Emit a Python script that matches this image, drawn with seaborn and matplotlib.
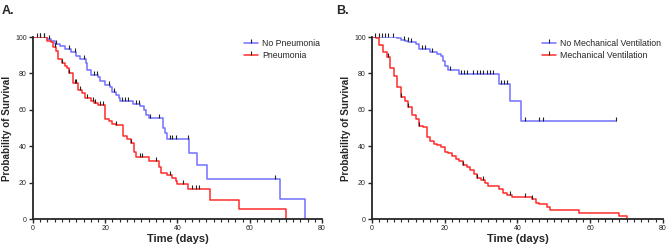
import numpy as np
import pandas as pd
import matplotlib
matplotlib.use("Agg")
import matplotlib.pyplot as plt
from matplotlib.path import Path
from matplotlib.lines import Line2D
from matplotlib.ticker import MultipleLocator
import seaborn as sns

# ---- Panel A: pneumonia ----
a_no_t = [0, 4, 5, 6, 7.5, 9, 10.5, 12, 13, 14.8, 15, 16, 18, 18.6, 20, 21.4, 22, 23, 23.7, 24,
          27.7, 29.7, 30.6, 31.4, 32, 36, 36.5, 37, 43.3, 45.4, 48.3, 68.3, 75.4]
a_no_s = [100, 99, 98, 96.3, 95, 93.6, 92, 89.4, 88, 85.7, 81.6, 79.3, 78, 75.6, 73.8, 72.5, 70, 68, 66.4, 64.6,
          63.3, 62.2, 60, 57.2, 55.4, 50, 47.5, 43.9, 36.5, 29.4, 21.8, 10.8, 0]
a_no_cens = [1, 2, 3, 4.5, 6.5, 10, 11.5, 14, 17, 17.8, 21, 22.5, 24.7, 25.5, 26.4, 28.5, 29.3,
             32.5, 35, 37.8, 38.6, 39.5, 43, 67]

a_pn_t = [0, 4, 5, 5.5, 6.5, 7, 8, 9, 9.5, 10, 11, 12.5, 13.5, 14.5, 16, 17, 18, 20, 21, 22, 23,
          25, 26, 27, 28, 28.5, 32, 35, 35.5, 37, 38.5, 39.5, 40, 43, 49, 57, 70]
a_pn_s = [100, 98, 97, 94.3, 92.5, 88, 85.7, 84.2, 83, 80, 75, 71, 69, 66.4, 65, 64, 62.6, 54.9, 53.6, 52.3, 51.7,
          45.7, 43.9, 42, 37, 34, 32, 28.3, 25.5, 24.2, 22.4, 21, 19.3, 16.5, 10.5, 5.3, 0]
a_pn_cens = [2, 3, 6, 8, 10, 11.5, 12, 13, 15, 16.5, 17.3, 18.5, 19.3, 23, 27, 29.5, 30.3, 34,
             38, 41.5, 44, 45, 46]

# ---- Panel B: mechanical ventilation ----
b_no_t = [0, 7, 8, 9, 10, 11, 12, 13, 16, 18, 19, 19.5, 20, 21, 24, 35, 38, 41, 67]
b_no_s = [100, 99.4, 98.5, 98, 97.2, 97, 96, 93.4, 92, 90.8, 89.4, 86.6, 84.2, 82, 79.8, 74.3, 65.1, 54.1, 54.1]
b_no_cens = [0.9, 1.8, 2.7, 3.6, 4.5, 5.8, 8.8, 9.8, 10.8, 13.8, 14.7, 16.5, 21.5, 24.6, 25.4, 26.2,
             27.9, 28.8, 29.7, 30.6, 31.5, 32.4, 33.3, 35.6, 36.3, 37, 42, 46, 47, 67]

b_mv_t = [0, 1, 2, 3, 4, 5, 6, 7, 8, 9, 10, 11, 12, 13, 14, 15, 16, 17, 18, 19, 20, 21, 22, 23, 24,
          25, 26, 27, 28, 29, 30, 31, 32, 35, 36, 37, 38.5, 44, 45, 46, 48, 49, 57, 68, 70]
b_mv_s = [100, 99.4, 95.8, 91.7, 89, 83, 78.7, 72.5, 67, 65.1, 61.5, 57.2, 54.9, 51.2, 50.5, 45, 42.6, 41.3,
          40.7, 39.4, 37, 36.1, 34.7, 32.8, 32.1, 29.7, 28.8, 27, 24.8, 22.4, 21.5, 20, 18.2, 16.3, 14.5,
          13.2, 11.9, 10.8, 9, 8.3, 6.4, 5, 3.5, 1.7, 0]
b_mv_cens = [4.5, 8, 10, 13, 25, 29, 30.5, 38, 42, 44]

BLUE = "#7070ff"
RED = "#ff2b2b"

tick_path = Path([(0, 0), (0, 1)])


def surv_at(times, surv, t):
    idx = np.searchsorted(times, t, side="right") - 1
    return np.asarray(surv)[idx]


def draw_panel(ax, groups):
    rows = []
    for name, t, s, _ in groups:
        rows += [{"Time": ti, "Survival": si, "Group": name} for ti, si in zip(t, s)]
    df = pd.DataFrame(rows)
    names = [g[0] for g in groups]
    sns.lineplot(data=df, x="Time", y="Survival", hue="Group", hue_order=names,
                 palette=[BLUE, RED], estimator=None, drawstyle="steps-post",
                 linewidth=1.1, ax=ax, legend=False)
    for name, t, s, cens in groups:
        ax.plot(cens, surv_at(t, s, cens), linestyle="none", marker=tick_path,
                markersize=6, mec="#222222", mew=0.8, clip_on=False)

    handles = [Line2D([0], [0], color=c, lw=1.1, marker=tick_path, markersize=6,
                      mec="#222222", mew=0.8) for c in [BLUE, RED]]
    ax.legend(handles, names, loc="upper right", frameon=False, fontsize=6.3,
              handlelength=1.6, handletextpad=0.4, labelspacing=0.35,
              bbox_to_anchor=(1.02, 1.03))

    ax.set_xlim(0, 80)
    ax.set_ylim(0, 100)
    ax.xaxis.set_major_locator(MultipleLocator(20))
    ax.xaxis.set_minor_locator(MultipleLocator(2))
    ax.yaxis.set_major_locator(MultipleLocator(20))
    ax.tick_params(axis="both", which="major", labelsize=5, length=3, width=1, pad=1.5)
    ax.tick_params(axis="x", which="minor", length=1.8, width=0.8)
    for sp in ["left", "bottom"]:
        ax.spines[sp].set_linewidth(1.3)
    sns.despine(ax=ax)
    ax.set_xlabel("Time (days)", fontsize=8, fontweight="bold", labelpad=1)
    ax.set_ylabel("Probability of Survival", fontsize=7.1, fontweight="bold", labelpad=2)


sns.set_style("ticks")
plt.rcParams["font.family"] = ["Liberation Sans", "DejaVu Sans"]

fig = plt.figure(figsize=(6.69, 2.5), dpi=100)
ax_a = fig.add_axes([0.0493, 0.124, 0.432, 0.728])
ax_b = fig.add_axes([0.556, 0.124, 0.435, 0.728])

draw_panel(ax_a, [("No Pneumonia", a_no_t, a_no_s, a_no_cens),
                  ("Pneumonia", a_pn_t, a_pn_s, a_pn_cens)])
draw_panel(ax_b, [("No Mechanical Ventilation", b_no_t, b_no_s, b_no_cens),
                  ("Mechanical Ventilation", b_mv_t, b_mv_s, b_mv_cens)])

fig.text(0.003, 0.955, "A.", fontsize=9, fontweight="bold", va="center")
fig.text(0.503, 0.955, "B.", fontsize=9, fontweight="bold", va="center")

fig.savefig("out.png", dpi=100)
